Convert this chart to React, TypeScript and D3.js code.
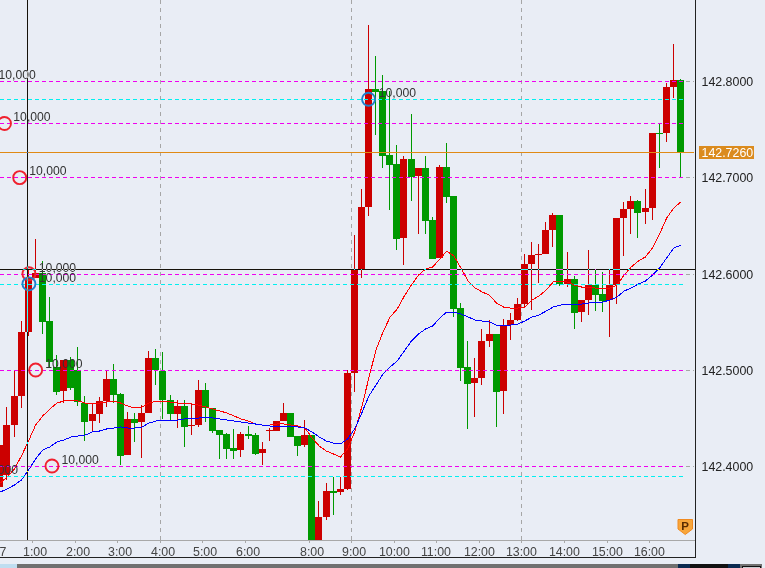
import React, { useEffect, useRef } from "react";
import * as d3 from "d3";

const WIDTH = 765;
const HEIGHT = 568;

// Candles, left to right, one every ten minutes of the traded session
const opens = [
  142.3782, 142.3906, 142.4426, 142.4728, 142.5394, 142.5955, 142.6007, 142.5508, 142.5030, 142.4780,
  142.5102, 142.4998, 142.4655, 142.4468, 142.4541, 142.4676, 142.4905, 142.4749, 142.4114, 142.4489,
  142.4458, 142.4551, 142.5123, 142.4988, 142.4686, 142.4541, 142.4624, 142.4416, 142.4426, 142.4790,
  142.4603, 142.4374, 142.4333, 142.4187, 142.4166, 142.4333, 142.4322, 142.4135, 142.4364, 142.4364,
  142.4468, 142.4551, 142.4312, 142.4218, 142.4322, 142.3178, 142.3470, 142.3740, 142.3730, 142.3761,
  142.4967, 142.6049, 142.6694, 142.7921, 142.7900, 142.7234, 142.7141, 142.6371, 142.7193, 142.7016,
  142.7099, 142.6558, 142.6163, 142.7110, 142.6808, 142.5643, 142.5030, 142.4863, 142.4915, 142.5300,
  142.5373, 142.4780, 142.5466, 142.5518, 142.5685, 142.6101, 142.6200, 142.6205, 142.6454, 142.6610,
  142.5893, 142.5945, 142.5602, 142.5726, 142.5882, 142.5789, 142.5726, 142.5882, 142.6579, 142.6673,
  142.6756, 142.6642, 142.6683, 142.7463, 142.7463, 142.7942, 142.8014,
];
const highs = [
  142.4270, 142.4614, 142.4988, 142.5508, 142.6038, 142.6361, 142.6132, 142.5758, 142.5154, 142.5102,
  142.5134, 142.5238, 142.4728, 142.4655, 142.4718, 142.4988, 142.5061, 142.4759, 142.4562, 142.4551,
  142.4634, 142.5196, 142.5217, 142.5186, 142.4738, 142.4686, 142.4686, 142.4655, 142.4894, 142.4863,
  142.4603, 142.4374, 142.4343, 142.4385, 142.4354, 142.4416, 142.4343, 142.4250, 142.4395, 142.4468,
  142.4655, 142.4551, 142.4312, 142.4478, 142.4322, 142.3636, 142.3823, 142.3886, 142.3886, 142.4998,
  142.6402, 142.6881, 142.8586, 142.8264, 142.8066, 142.7900, 142.7338, 142.7224, 142.7661, 142.7099,
  142.7224, 142.6590, 142.7130, 142.7359, 142.6808, 142.5695, 142.5300, 142.5123, 142.5425, 142.5518,
  142.5373, 142.5529, 142.5591, 142.5747, 142.6205, 142.6330, 142.6309, 142.6538, 142.6631, 142.6610,
  142.6226, 142.5976, 142.5726, 142.6246, 142.6049, 142.6018, 142.6049, 142.6579, 142.6746, 142.6808,
  142.6766, 142.6881, 142.7463, 142.7567, 142.7983, 142.8389, 142.8024,
];
const lows = [
  142.3750, 142.3854, 142.4302, 142.4603, 142.5352, 142.5955, 142.5373, 142.5030, 142.4738, 142.4655,
  142.4790, 142.4624, 142.4260, 142.4364, 142.4447, 142.4614, 142.4655, 142.4010, 142.4114, 142.4250,
  142.4083, 142.4551, 142.4842, 142.4489, 142.4478, 142.4395, 142.4198, 142.4322, 142.4406, 142.4458,
  142.4343, 142.4073, 142.4073, 142.4073, 142.4094, 142.4281, 142.4114, 142.4010, 142.4260, 142.4364,
  142.4468, 142.4302, 142.4104, 142.4198, 142.3178, 142.3178, 142.3438, 142.3490, 142.3698, 142.3750,
  142.4770, 142.5955, 142.6600, 142.7442, 142.7099, 142.6662, 142.6246, 142.6090, 142.6756, 142.6413,
  142.6413, 142.6153, 142.6163, 142.6735, 142.5550, 142.4884, 142.4385, 142.4510, 142.4842, 142.5238,
  142.4406, 142.4541, 142.5310, 142.5508, 142.5643, 142.5622, 142.5903, 142.6205, 142.6278, 142.5872,
  142.5862, 142.5425, 142.5498, 142.5570, 142.5612, 142.5602, 142.5342, 142.5685, 142.6184, 142.6413,
  142.6371, 142.6517, 142.6558, 142.7099, 142.7370, 142.7827, 142.7000,
];
const closes = [
  142.4218, 142.4426, 142.4728, 142.5394, 142.5955, 142.6007, 142.5498, 142.5082, 142.4770, 142.5102,
  142.4811, 142.4666, 142.4458, 142.4541, 142.4676, 142.4905, 142.4738, 142.4104, 142.4489, 142.4447,
  142.4551, 142.5123, 142.4998, 142.4686, 142.4541, 142.4624, 142.4406, 142.4426, 142.4790, 142.4603,
  142.4364, 142.4322, 142.4177, 142.4156, 142.4333, 142.4312, 142.4125, 142.4177, 142.4374, 142.4468,
  142.4551, 142.4302, 142.4208, 142.4322, 142.3178, 142.3470, 142.3740, 142.3719, 142.3761, 142.4967,
  142.6038, 142.6694, 142.7921, 142.7890, 142.7224, 142.7130, 142.6361, 142.7193, 142.7006, 142.7099,
  142.6548, 142.6153, 142.7110, 142.6798, 142.5633, 142.5019, 142.4853, 142.4915, 142.5300, 142.5373,
  142.4770, 142.5466, 142.5518, 142.5685, 142.6101, 142.6194, 142.6205, 142.6454, 142.6610, 142.5893,
  142.5945, 142.5591, 142.5726, 142.5882, 142.5778, 142.5716, 142.5882, 142.6579, 142.6673, 142.6756,
  142.6631, 142.6683, 142.7463, 142.7453, 142.7942, 142.8014, 142.7260,
];

// Moving averages, one value per candle
const fastMA = [
  142.3823, 142.3886, 142.3969, 142.4104, 142.4260, 142.4426, 142.4520, 142.4593, 142.4655, 142.4676,
  142.4686, 142.4676, 142.4655, 142.4655, 142.4655, 142.4666, 142.4676, 142.4655, 142.4624, 142.4603,
  142.4614, 142.4655, 142.4676, 142.4676, 142.4666, 142.4655, 142.4645, 142.4645, 142.4634, 142.4614,
  142.4593, 142.4572, 142.4551, 142.4520, 142.4489, 142.4468, 142.4437, 142.4426, 142.4426, 142.4437,
  142.4437, 142.4426, 142.4416, 142.4395, 142.4291, 142.4208, 142.4156, 142.4125, 142.4094, 142.4177,
  142.4354, 142.4614, 142.4915, 142.5206, 142.5394, 142.5550, 142.5633, 142.5768, 142.5882, 142.5986,
  142.6049, 142.6070, 142.6153, 142.6236, 142.6184, 142.6059, 142.5924, 142.5851, 142.5810, 142.5778,
  142.5695, 142.5654, 142.5643, 142.5643, 142.5654, 142.5726, 142.5768, 142.5830, 142.5914, 142.5924,
  142.5914, 142.5882, 142.5862, 142.5862, 142.5851, 142.5851, 142.5851, 142.5882, 142.5986, 142.6070,
  142.6132, 142.6174, 142.6267, 142.6413, 142.6579, 142.6683, 142.6746,
];
const slowMA = [
  142.3730, 142.3761, 142.3802, 142.3854, 142.3958, 142.4073, 142.4166, 142.4198, 142.4250, 142.4270,
  142.4302, 142.4312, 142.4322, 142.4354, 142.4364, 142.4385, 142.4395, 142.4406, 142.4395, 142.4395,
  142.4406, 142.4447, 142.4468, 142.4478, 142.4478, 142.4478, 142.4489, 142.4499, 142.4499, 142.4510,
  142.4499, 142.4489, 142.4478, 142.4468, 142.4458, 142.4447, 142.4437, 142.4426, 142.4416, 142.4416,
  142.4416, 142.4416, 142.4406, 142.4395, 142.4354, 142.4302, 142.4260, 142.4239, 142.4229, 142.4281,
  142.4385, 142.4551, 142.4728, 142.4842, 142.4957, 142.5030, 142.5092, 142.5196, 142.5300, 142.5373,
  142.5425, 142.5456, 142.5539, 142.5602, 142.5602, 142.5581, 142.5550, 142.5518, 142.5508, 142.5498,
  142.5466, 142.5466, 142.5466, 142.5477, 142.5508, 142.5550, 142.5570, 142.5612, 142.5654, 142.5674,
  142.5685, 142.5685, 142.5685, 142.5695, 142.5706, 142.5706, 142.5726, 142.5758, 142.5820, 142.5851,
  142.5893, 142.5924, 142.5986, 142.6059, 142.6163, 142.6267, 142.6298,
];

// Price axis and levels
const priceTicks = [142.8, 142.7, 142.6, 142.5, 142.4];
const magentaLevels = [142.8, 142.7563, 142.7, 142.6, 142.5, 142.4];
const cyanLevels = [142.7815, 142.589, 142.389];
const currentPrice = 142.726;
const crosshairPrice = 142.605;

// Time axis: candle index of each hourly tick
const timeTickIndex = [5, 11, 17, 23, 29, 35, 44, 50, 56, 62, 68, 74, 80, 86, 92];
const timeLabels = ["1:00", "2:00", "3:00", "4:00", "5:00", "6:00", "8:00", "9:00", "10:00", "11:00", "12:00", "13:00", "14:00", "15:00", "16:00"];
const gridIndex = [23, 50, 74];
const crosshairIndex = 3.85;

// Order markers: candle index, price, colour, label offsets
const markerIndex = [0.65, 2.8, 4.1, 4.1, 5.05, 7.35, 52];
const markerPrice = [142.7563, 142.7, 142.6, 142.5895, 142.4998, 142.4, 142.7815];
const markerKind = ["sell", "sell", "sell", "buy", "sell", "sell", "buy"];
const labelText = "10,000";
const labelIndex = [-0.2, 1.9, 4.15, 5.5, 5.5, 6.4, 8.7, -2.7, 53.45];
const labelPrice = [142.8028, 142.7592, 142.7028, 142.6023, 142.5919, 142.5022, 142.4021, 142.3918, 142.7838];

const COLORS = {
  bg: "#E9EDF5",
  up: "#CC0000",
  down: "#009900",
  magenta: "#F000F0",
  cyan: "#00F0F0",
  orange: "#E08A14",
  grid: "#A6A6A6",
  sell: "#F0202E",
  buy: "#1F7FCC",
};

export default function App() {
  const ref = useRef<SVGSVGElement | null>(null);

  useEffect(() => {
    const svg = d3.select(ref.current);
    svg.selectAll("*").remove();

    const plotRight = 695;
    const plotBottom = 540;
    const lineEnd = 685;

    const n = opens.length;
    const x = d3.scaleLinear().domain([0, n - 1]).range([680.5 - 7.09 * (n - 1), 680.5]);
    const y = d3.scaleLinear().domain([142.4, 142.8]).range([466, 81.5]);
    const tickX = (i: number) => Math.round(x(i) - 3.1) + 0.5;
    const px = (v: number) => Math.round(y(v) - 0.2) + 0.5;

    svg.append("rect").attr("width", WIDTH).attr("height", HEIGHT).attr("fill", COLORS.bg);

    // Vertical grid
    svg.append("g").attr("shape-rendering", "crispEdges").selectAll("line").data(gridIndex).join("line")
      .attr("x1", (d) => tickX(d)).attr("x2", (d) => tickX(d))
      .attr("y1", 0).attr("y2", plotBottom)
      .attr("stroke", COLORS.grid).attr("stroke-dasharray", "4 4");

    // Horizontal grid + right tick
    svg.append("g").attr("shape-rendering", "crispEdges").selectAll("line").data(priceTicks).join("line")
      .attr("x1", 0).attr("x2", plotRight - 1)
      .attr("y1", (d) => px(d)).attr("y2", (d) => px(d))
      .attr("stroke", COLORS.grid).attr("stroke-dasharray", "4 3");

    // Candles, clipped to the plot
    const clip = svg.append("defs").append("clipPath").attr("id", "plot-clip");
    clip.append("rect").attr("x", 0).attr("y", 0).attr("width", plotRight).attr("height", plotBottom);

    const chart = svg.append("g").attr("clip-path", "url(#plot-clip)").attr("shape-rendering", "crispEdges");
    const idx = d3.range(n);
    const color = (i: number) => (closes[i] >= opens[i] ? COLORS.up : COLORS.down);

    chart.append("g").selectAll("line").data(idx).join("line")
      .attr("x1", (i) => Math.floor(x(i)) + 0.5).attr("x2", (i) => Math.floor(x(i)) + 0.5)
      .attr("y1", (i) => y(highs[i])).attr("y2", (i) => y(lows[i]))
      .attr("stroke", color);

    chart.append("g").selectAll("rect").data(idx).join("rect")
      .attr("x", (i) => Math.floor(x(i)) - 3)
      .attr("width", 7)
      .attr("y", (i) => Math.round(y(Math.max(opens[i], closes[i]))))
      .attr("height", (i) => Math.max(1, Math.round(Math.abs(y(opens[i]) - y(closes[i])))))
      .attr("fill", color);

    // Moving averages
    const lineGen = (vals: number[]) =>
      d3.line<number>().x((i) => x(i) + 0.3).y((i) => y(vals[i]))(idx);
    chart.append("path").attr("d", lineGen(fastMA)).attr("fill", "none").attr("stroke", "#FF0000");
    chart.append("path").attr("d", lineGen(slowMA)).attr("fill", "none").attr("stroke", "#0000FF");

    // Levels
    const levels = svg.append("g").attr("shape-rendering", "crispEdges");
    levels.append("g").selectAll("line").data(magentaLevels).join("line")
      .attr("x1", 0).attr("x2", lineEnd)
      .attr("y1", (d) => px(d)).attr("y2", (d) => px(d))
      .attr("stroke", COLORS.magenta).attr("stroke-dasharray", "4 3");
    levels.append("g").selectAll("line").data(cyanLevels).join("line")
      .attr("x1", 0).attr("x2", lineEnd)
      .attr("y1", (d) => px(d)).attr("y2", (d) => px(d))
      .attr("stroke", COLORS.cyan).attr("stroke-dasharray", "4 3");
    levels.append("line")
      .attr("x1", 0).attr("x2", plotRight - 1)
      .attr("y1", px(currentPrice)).attr("y2", px(currentPrice))
      .attr("stroke", COLORS.orange);

    // Order labels and markers
    const text = svg.append("g")
      .attr("font-family", "'Liberation Sans', Arial, sans-serif")
      .attr("font-size", 12.2).attr("fill", "#333");
    text.selectAll("text").data(labelIndex).join("text")
      .attr("x", (d) => x(d))
      .attr("y", (_, i) => y(labelPrice[i]))
      .text(labelText);

    svg.append("g").selectAll("circle").data(markerIndex).join("circle")
      .attr("cx", (d) => x(d)).attr("cy", (_, i) => y(markerPrice[i]))
      .attr("r", 6.5).attr("fill", "none").attr("stroke-width", 1.9)
      .attr("stroke", (_, i) => (markerKind[i] === "buy" ? COLORS.buy : COLORS.sell));

    // Crosshair inverts what it crosses
    const cross = svg.append("g").style("mix-blend-mode", "difference").attr("shape-rendering", "crispEdges");
    cross.append("line")
      .attr("x1", Math.floor(x(crosshairIndex)) + 0.5).attr("x2", Math.floor(x(crosshairIndex)) + 0.5)
      .attr("y1", 0).attr("y2", plotBottom).attr("stroke", "#fff");
    cross.append("line")
      .attr("x1", 0).attr("x2", plotRight)
      .attr("y1", px(crosshairPrice)).attr("y2", px(crosshairPrice)).attr("stroke", "#fff");

    // Frame
    const frame = svg.append("g").attr("shape-rendering", "crispEdges");
    frame.append("line").attr("x1", 0).attr("x2", plotRight).attr("y1", 540.5).attr("y2", 540.5).attr("stroke", "#A8A8A8");
    frame.append("line").attr("x1", 695.5).attr("x2", 695.5).attr("y1", 0).attr("y2", 558).attr("stroke", "#222");
    frame.append("line").attr("x1", 0).attr("x2", 696).attr("y1", 557.5).attr("y2", 557.5).attr("stroke", "#222");

    // Time ticks and labels
    const ticks = frame.append("g");
    ticks.selectAll("line").data(timeTickIndex).join("line")
      .attr("x1", (d) => tickX(d)).attr("x2", (d) => tickX(d))
      .attr("y1", (d) => (gridIndex.includes(d) ? 537 : 541)).attr("y2", 543)
      .attr("stroke", "#A8A8A8");

    const timeText = svg.append("g")
      .attr("font-family", "'Liberation Sans', Arial, sans-serif")
      .attr("font-size", 12.4).attr("fill", "#444");
    timeText.selectAll("text").data(timeTickIndex).join("text")
      .attr("x", (_, i) => tickX(timeTickIndex[i]) - (timeLabels[i].length > 4 ? 15.6 : 9.5))
      .attr("y", 555.5)
      .text((_, i) => timeLabels[i]);
    timeText.append("text").attr("x", -0.5).attr("y", 555.5).text("7");

    // Price axis
    const priceText = svg.append("g")
      .attr("font-family", "'Liberation Sans', Arial, sans-serif")
      .attr("font-size", 12.4).attr("fill", "#222");
    priceText.selectAll("text").data(priceTicks).join("text")
      .attr("x", 701.5).attr("y", (d) => y(d) + 4.8)
      .text((d) => d3.format(".4f")(d));
    svg.append("rect").attr("x", 699).attr("y", Math.round(y(currentPrice)) - 7).attr("width", 55).attr("height", 13).attr("fill", "#DB8B1E");
    svg.append("text")
      .attr("x", 701.5).attr("y", y(currentPrice) + 4.4)
      .attr("font-family", "'Liberation Sans', Arial, sans-serif")
      .attr("font-size", 12.4).attr("fill", "#fff")
      .text(d3.format(".4f")(currentPrice));

    // "P" badge
    const badge = svg.append("g").attr("transform", "translate(677.5,519)");
    badge.append("path").attr("d", "M0.5 0.5H15V10L7.75 15.5L0.5 10Z").attr("fill", "#F8A63A").attr("stroke", "#F08A20");
    badge.append("text").attr("x", 7.7).attr("y", 10.8).attr("text-anchor", "middle")
      .attr("font-family", "'Liberation Sans', Arial, sans-serif")
      .attr("font-size", 11.5).attr("font-weight", 700).attr("fill", "#5A2C00").text("P");

    // Window edge below the chart
    const strip = svg.append("g").attr("shape-rendering", "crispEdges");
    strip.append("rect").attr("x", 17).attr("y", 564).attr("width", 661).attr("height", 4).attr("fill", "#707070");
    strip.append("rect").attr("x", 0).attr("y", 564).attr("width", 17).attr("height", 4).attr("fill", "#BFDDF0");
    strip.append("rect").attr("x", 678).attr("y", 564).attr("width", 62).attr("height", 4).attr("fill", "#0A2A50");
    strip.append("rect").attr("x", 690).attr("y", 564).attr("width", 38).attr("height", 4).attr("fill", "#111");
    strip.append("rect").attr("x", 740).attr("y", 564).attr("width", 22).attr("height", 4).attr("fill", "#707070");
    strip.append("rect").attr("x", 742.5).attr("y", 566.5).attr("width", 18).attr("height", 4).attr("fill", "#C8CCD0").attr("stroke", "#111");
  }, []);

  return (
    <svg
      ref={ref}
      width={WIDTH}
      height={HEIGHT}
      style={{ position: "absolute", left: 0, top: 0, display: "block" }}
    />
  );
}
